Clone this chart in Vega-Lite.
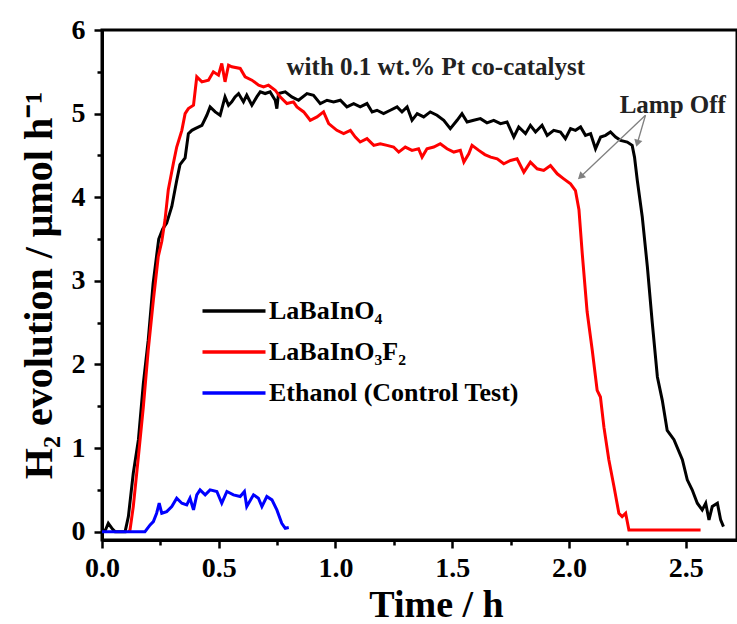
{
  "$schema": "https://vega.github.io/schema/vega-lite/v6.json",
  "width": 635,
  "height": 510,
  "autosize": "none",
  "padding": {"left": 102, "top": 30, "right": 0, "bottom": 84},
  "background": "white",
  "config": {
    "view": {"stroke": "black", "strokeWidth": 3},
    "font": "Liberation Serif",
    "axis": {"grid": false, "domainColor": "black", "tickColor": "black", "domainWidth": 3, "tickWidth": 2.5, "labelColor": "black", "titleColor": "black", "labelFont": "Liberation Serif", "titleFont": "Liberation Serif", "labelFontWeight": "bold", "titleFontWeight": "bold"}
  },
  "datasets": {
    "curves": [
      {"s":"LaBaInO₄","t":0,"v":0},{"s":"LaBaInO₄","t":0.015,"v":0.02},{"s":"LaBaInO₄","t":0.027,"v":0.1},{"s":"LaBaInO₄","t":0.045,"v":0.03},{"s":"LaBaInO₄","t":0.056,"v":0},{"s":"LaBaInO₄","t":0.099,"v":0},{"s":"LaBaInO₄","t":0.113,"v":0.18},{"s":"LaBaInO₄","t":0.134,"v":0.7},{"s":"LaBaInO₄","t":0.156,"v":1.1},{"s":"LaBaInO₄","t":0.177,"v":1.77},{"s":"LaBaInO₄","t":0.198,"v":2.29},{"s":"LaBaInO₄","t":0.219,"v":2.97},{"s":"LaBaInO₄","t":0.243,"v":3.5},{"s":"LaBaInO₄","t":0.26,"v":3.62},{"s":"LaBaInO₄","t":0.277,"v":3.69},{"s":"LaBaInO₄","t":0.299,"v":3.89},{"s":"LaBaInO₄","t":0.32,"v":4.2},{"s":"LaBaInO₄","t":0.334,"v":4.39},{"s":"LaBaInO₄","t":0.356,"v":4.47},{"s":"LaBaInO₄","t":0.37,"v":4.76},{"s":"LaBaInO₄","t":0.385,"v":4.8},{"s":"LaBaInO₄","t":0.399,"v":4.82},{"s":"LaBaInO₄","t":0.428,"v":4.86},{"s":"LaBaInO₄","t":0.449,"v":4.98},{"s":"LaBaInO₄","t":0.463,"v":5.08},{"s":"LaBaInO₄","t":0.485,"v":5.02},{"s":"LaBaInO₄","t":0.506,"v":4.98},{"s":"LaBaInO₄","t":0.527,"v":5.2},{"s":"LaBaInO₄","t":0.542,"v":5.1},{"s":"LaBaInO₄","t":0.556,"v":5.14},{"s":"LaBaInO₄","t":0.57,"v":5.2},{"s":"LaBaInO₄","t":0.585,"v":5.24},{"s":"LaBaInO₄","t":0.606,"v":5.14},{"s":"LaBaInO₄","t":0.62,"v":5.22},{"s":"LaBaInO₄","t":0.642,"v":5.1},{"s":"LaBaInO₄","t":0.663,"v":5.2},{"s":"LaBaInO₄","t":0.678,"v":5.26},{"s":"LaBaInO₄","t":0.699,"v":5.24},{"s":"LaBaInO₄","t":0.72,"v":5.26},{"s":"LaBaInO₄","t":0.742,"v":5.16},{"s":"LaBaInO₄","t":0.749,"v":5.06},{"s":"LaBaInO₄","t":0.756,"v":5.24},{"s":"LaBaInO₄","t":0.785,"v":5.26},{"s":"LaBaInO₄","t":0.813,"v":5.2},{"s":"LaBaInO₄","t":0.842,"v":5.16},{"s":"LaBaInO₄","t":0.878,"v":5.24},{"s":"LaBaInO₄","t":0.906,"v":5.22},{"s":"LaBaInO₄","t":0.935,"v":5.12},{"s":"LaBaInO₄","t":0.964,"v":5.16},{"s":"LaBaInO₄","t":0.992,"v":5.14},{"s":"LaBaInO₄","t":1.021,"v":5.16},{"s":"LaBaInO₄","t":1.049,"v":5.08},{"s":"LaBaInO₄","t":1.078,"v":5.12},{"s":"LaBaInO₄","t":1.106,"v":5.08},{"s":"LaBaInO₄","t":1.135,"v":5.12},{"s":"LaBaInO₄","t":1.157,"v":5.02},{"s":"LaBaInO₄","t":1.178,"v":5.04},{"s":"LaBaInO₄","t":1.206,"v":5.0},{"s":"LaBaInO₄","t":1.235,"v":5.04},{"s":"LaBaInO₄","t":1.264,"v":5.08},{"s":"LaBaInO₄","t":1.285,"v":5.02},{"s":"LaBaInO₄","t":1.307,"v":5.08},{"s":"LaBaInO₄","t":1.328,"v":4.92},{"s":"LaBaInO₄","t":1.35,"v":5.0},{"s":"LaBaInO₄","t":1.378,"v":4.96},{"s":"LaBaInO₄","t":1.406,"v":5.02},{"s":"LaBaInO₄","t":1.435,"v":4.98},{"s":"LaBaInO₄","t":1.464,"v":4.92},{"s":"LaBaInO₄","t":1.492,"v":4.82},{"s":"LaBaInO₄","t":1.521,"v":4.92},{"s":"LaBaInO₄","t":1.542,"v":5.0},{"s":"LaBaInO₄","t":1.564,"v":4.9},{"s":"LaBaInO₄","t":1.592,"v":4.92},{"s":"LaBaInO₄","t":1.621,"v":4.94},{"s":"LaBaInO₄","t":1.649,"v":4.89},{"s":"LaBaInO₄","t":1.678,"v":4.92},{"s":"LaBaInO₄","t":1.707,"v":4.88},{"s":"LaBaInO₄","t":1.735,"v":4.9},{"s":"LaBaInO₄","t":1.764,"v":4.72},{"s":"LaBaInO₄","t":1.785,"v":4.84},{"s":"LaBaInO₄","t":1.814,"v":4.76},{"s":"LaBaInO₄","t":1.835,"v":4.86},{"s":"LaBaInO₄","t":1.857,"v":4.78},{"s":"LaBaInO₄","t":1.885,"v":4.86},{"s":"LaBaInO₄","t":1.907,"v":4.74},{"s":"LaBaInO₄","t":1.935,"v":4.8},{"s":"LaBaInO₄","t":1.964,"v":4.78},{"s":"LaBaInO₄","t":1.985,"v":4.7},{"s":"LaBaInO₄","t":2.007,"v":4.82},{"s":"LaBaInO₄","t":2.028,"v":4.8},{"s":"LaBaInO₄","t":2.05,"v":4.84},{"s":"LaBaInO₄","t":2.071,"v":4.74},{"s":"LaBaInO₄","t":2.093,"v":4.76},{"s":"LaBaInO₄","t":2.114,"v":4.58},{"s":"LaBaInO₄","t":2.136,"v":4.72},{"s":"LaBaInO₄","t":2.157,"v":4.74},{"s":"LaBaInO₄","t":2.178,"v":4.78},{"s":"LaBaInO₄","t":2.2,"v":4.72},{"s":"LaBaInO₄","t":2.221,"v":4.68},{"s":"LaBaInO₄","t":2.25,"v":4.66},{"s":"LaBaInO₄","t":2.271,"v":4.62},{"s":"LaBaInO₄","t":2.281,"v":4.48},{"s":"LaBaInO₄","t":2.293,"v":4.2},{"s":"LaBaInO₄","t":2.314,"v":3.77},{"s":"LaBaInO₄","t":2.336,"v":3.17},{"s":"LaBaInO₄","t":2.357,"v":2.5},{"s":"LaBaInO₄","t":2.379,"v":1.85},{"s":"LaBaInO₄","t":2.4,"v":1.57},{"s":"LaBaInO₄","t":2.421,"v":1.21},{"s":"LaBaInO₄","t":2.45,"v":1.1},{"s":"LaBaInO₄","t":2.486,"v":0.86},{"s":"LaBaInO₄","t":2.507,"v":0.62},{"s":"LaBaInO₄","t":2.528,"v":0.5},{"s":"LaBaInO₄","t":2.55,"v":0.34},{"s":"LaBaInO₄","t":2.571,"v":0.26},{"s":"LaBaInO₄","t":2.586,"v":0.34},{"s":"LaBaInO₄","t":2.6,"v":0.14},{"s":"LaBaInO₄","t":2.614,"v":0.3},{"s":"LaBaInO₄","t":2.636,"v":0.34},{"s":"LaBaInO₄","t":2.65,"v":0.14},{"s":"LaBaInO₄","t":2.662,"v":0.06},
      {"s":"LaBaInO₃F₂","t":0.115,"v":0},{"s":"LaBaInO₃F₂","t":0.12,"v":0.02},{"s":"LaBaInO₃F₂","t":0.134,"v":0.3},{"s":"LaBaInO₃F₂","t":0.156,"v":0.9},{"s":"LaBaInO₃F₂","t":0.177,"v":1.49},{"s":"LaBaInO₃F₂","t":0.198,"v":2.17},{"s":"LaBaInO₃F₂","t":0.22,"v":2.77},{"s":"LaBaInO₃F₂","t":0.241,"v":3.29},{"s":"LaBaInO₃F₂","t":0.256,"v":3.47},{"s":"LaBaInO₃F₂","t":0.27,"v":3.73},{"s":"LaBaInO₃F₂","t":0.284,"v":4.09},{"s":"LaBaInO₃F₂","t":0.306,"v":4.41},{"s":"LaBaInO₃F₂","t":0.32,"v":4.6},{"s":"LaBaInO₃F₂","t":0.342,"v":4.8},{"s":"LaBaInO₃F₂","t":0.356,"v":5.0},{"s":"LaBaInO₃F₂","t":0.37,"v":5.06},{"s":"LaBaInO₃F₂","t":0.392,"v":5.1},{"s":"LaBaInO₃F₂","t":0.406,"v":5.44},{"s":"LaBaInO₃F₂","t":0.428,"v":5.38},{"s":"LaBaInO₃F₂","t":0.456,"v":5.4},{"s":"LaBaInO₃F₂","t":0.477,"v":5.5},{"s":"LaBaInO₃F₂","t":0.499,"v":5.46},{"s":"LaBaInO₃F₂","t":0.513,"v":5.6},{"s":"LaBaInO₃F₂","t":0.527,"v":5.38},{"s":"LaBaInO₃F₂","t":0.542,"v":5.58},{"s":"LaBaInO₃F₂","t":0.556,"v":5.56},{"s":"LaBaInO₃F₂","t":0.592,"v":5.54},{"s":"LaBaInO₃F₂","t":0.613,"v":5.44},{"s":"LaBaInO₃F₂","t":0.642,"v":5.4},{"s":"LaBaInO₃F₂","t":0.671,"v":5.34},{"s":"LaBaInO₃F₂","t":0.692,"v":5.32},{"s":"LaBaInO₃F₂","t":0.713,"v":5.34},{"s":"LaBaInO₃F₂","t":0.742,"v":5.28},{"s":"LaBaInO₃F₂","t":0.763,"v":5.2},{"s":"LaBaInO₃F₂","t":0.792,"v":5.12},{"s":"LaBaInO₃F₂","t":0.82,"v":5.14},{"s":"LaBaInO₃F₂","t":0.835,"v":5.08},{"s":"LaBaInO₃F₂","t":0.864,"v":5.02},{"s":"LaBaInO₃F₂","t":0.892,"v":4.92},{"s":"LaBaInO₃F₂","t":0.921,"v":4.96},{"s":"LaBaInO₃F₂","t":0.949,"v":5.02},{"s":"LaBaInO₃F₂","t":0.971,"v":4.88},{"s":"LaBaInO₃F₂","t":1.006,"v":4.8},{"s":"LaBaInO₃F₂","t":1.035,"v":4.76},{"s":"LaBaInO₃F₂","t":1.064,"v":4.8},{"s":"LaBaInO₃F₂","t":1.085,"v":4.72},{"s":"LaBaInO₃F₂","t":1.106,"v":4.66},{"s":"LaBaInO₃F₂","t":1.135,"v":4.7},{"s":"LaBaInO₃F₂","t":1.164,"v":4.62},{"s":"LaBaInO₃F₂","t":1.192,"v":4.64},{"s":"LaBaInO₃F₂","t":1.221,"v":4.62},{"s":"LaBaInO₃F₂","t":1.249,"v":4.6},{"s":"LaBaInO₃F₂","t":1.271,"v":4.54},{"s":"LaBaInO₃F₂","t":1.299,"v":4.6},{"s":"LaBaInO₃F₂","t":1.328,"v":4.56},{"s":"LaBaInO₃F₂","t":1.356,"v":4.58},{"s":"LaBaInO₃F₂","t":1.371,"v":4.48},{"s":"LaBaInO₃F₂","t":1.392,"v":4.58},{"s":"LaBaInO₃F₂","t":1.421,"v":4.6},{"s":"LaBaInO₃F₂","t":1.449,"v":4.64},{"s":"LaBaInO₃F₂","t":1.478,"v":4.58},{"s":"LaBaInO₃F₂","t":1.507,"v":4.54},{"s":"LaBaInO₃F₂","t":1.535,"v":4.56},{"s":"LaBaInO₃F₂","t":1.55,"v":4.42},{"s":"LaBaInO₃F₂","t":1.571,"v":4.52},{"s":"LaBaInO₃F₂","t":1.585,"v":4.62},{"s":"LaBaInO₃F₂","t":1.614,"v":4.56},{"s":"LaBaInO₃F₂","t":1.64,"v":4.51},{"s":"LaBaInO₃F₂","t":1.665,"v":4.48},{"s":"LaBaInO₃F₂","t":1.693,"v":4.46},{"s":"LaBaInO₃F₂","t":1.721,"v":4.4},{"s":"LaBaInO₃F₂","t":1.75,"v":4.44},{"s":"LaBaInO₃F₂","t":1.778,"v":4.46},{"s":"LaBaInO₃F₂","t":1.807,"v":4.3},{"s":"LaBaInO₃F₂","t":1.835,"v":4.42},{"s":"LaBaInO₃F₂","t":1.864,"v":4.34},{"s":"LaBaInO₃F₂","t":1.892,"v":4.32},{"s":"LaBaInO₃F₂","t":1.921,"v":4.38},{"s":"LaBaInO₃F₂","t":1.95,"v":4.28},{"s":"LaBaInO₃F₂","t":1.978,"v":4.22},{"s":"LaBaInO₃F₂","t":2.007,"v":4.16},{"s":"LaBaInO₃F₂","t":2.028,"v":4.08},{"s":"LaBaInO₃F₂","t":2.043,"v":3.85},{"s":"LaBaInO₃F₂","t":2.057,"v":3.33},{"s":"LaBaInO₃F₂","t":2.078,"v":2.63},{"s":"LaBaInO₃F₂","t":2.1,"v":2.17},{"s":"LaBaInO₃F₂","t":2.121,"v":1.69},{"s":"LaBaInO₃F₂","t":2.135,"v":1.61},{"s":"LaBaInO₃F₂","t":2.15,"v":1.25},{"s":"LaBaInO₃F₂","t":2.171,"v":0.86},{"s":"LaBaInO₃F₂","t":2.193,"v":0.54},{"s":"LaBaInO₃F₂","t":2.214,"v":0.22},{"s":"LaBaInO₃F₂","t":2.228,"v":0.18},{"s":"LaBaInO₃F₂","t":2.243,"v":0.22},{"s":"LaBaInO₃F₂","t":2.257,"v":0.02},{"s":"LaBaInO₃F₂","t":2.564,"v":0.02},
      {"s":"Ethanol (Control Test)","t":0,"v":0},{"s":"Ethanol (Control Test)","t":0.184,"v":0},{"s":"Ethanol (Control Test)","t":0.206,"v":0.08},{"s":"Ethanol (Control Test)","t":0.22,"v":0.12},{"s":"Ethanol (Control Test)","t":0.234,"v":0.22},{"s":"Ethanol (Control Test)","t":0.245,"v":0.34},{"s":"Ethanol (Control Test)","t":0.256,"v":0.22},{"s":"Ethanol (Control Test)","t":0.277,"v":0.24},{"s":"Ethanol (Control Test)","t":0.299,"v":0.3},{"s":"Ethanol (Control Test)","t":0.32,"v":0.4},{"s":"Ethanol (Control Test)","t":0.342,"v":0.34},{"s":"Ethanol (Control Test)","t":0.363,"v":0.32},{"s":"Ethanol (Control Test)","t":0.377,"v":0.4},{"s":"Ethanol (Control Test)","t":0.392,"v":0.26},{"s":"Ethanol (Control Test)","t":0.406,"v":0.44},{"s":"Ethanol (Control Test)","t":0.42,"v":0.5},{"s":"Ethanol (Control Test)","t":0.442,"v":0.44},{"s":"Ethanol (Control Test)","t":0.463,"v":0.5},{"s":"Ethanol (Control Test)","t":0.492,"v":0.48},{"s":"Ethanol (Control Test)","t":0.513,"v":0.34},{"s":"Ethanol (Control Test)","t":0.535,"v":0.48},{"s":"Ethanol (Control Test)","t":0.563,"v":0.44},{"s":"Ethanol (Control Test)","t":0.592,"v":0.42},{"s":"Ethanol (Control Test)","t":0.61,"v":0.48},{"s":"Ethanol (Control Test)","t":0.62,"v":0.3},{"s":"Ethanol (Control Test)","t":0.649,"v":0.44},{"s":"Ethanol (Control Test)","t":0.67,"v":0.4},{"s":"Ethanol (Control Test)","t":0.685,"v":0.3},{"s":"Ethanol (Control Test)","t":0.706,"v":0.42},{"s":"Ethanol (Control Test)","t":0.728,"v":0.38},{"s":"Ethanol (Control Test)","t":0.749,"v":0.26},{"s":"Ethanol (Control Test)","t":0.77,"v":0.1},{"s":"Ethanol (Control Test)","t":0.785,"v":0.04},{"s":"Ethanol (Control Test)","t":0.8,"v":0.05}
    ],
    "notes": [
      {"t": 1.43, "v": 5.56, "label": "with 0.1 wt.% Pt co-catalyst"},
      {"t": 2.445, "v": 5.1, "label": "Lamp Off"}
    ],
    "arrows": [
      {"id": "red", "t": 2.328, "v": 4.98, "t2": 2.05, "v2": 4.245},
      {"id": "black", "t": 2.328, "v": 4.98, "t2": 2.293, "v2": 4.645}
    ]
  },
  "resolve": {"axis": {"x": "independent", "y": "independent"}},
  "layer": [
    {
      "data": {"name": "curves"},
      "mark": {"type": "line", "strokeWidth": 3, "interpolate": "linear"},
      "encoding": {
        "x": {"field": "t", "type": "quantitative", "scale": {"domain": [0, 2.72], "nice": false, "zero": false},
          "axis": {"orient": "bottom", "values": [0, 0.5, 1, 1.5, 2, 2.5], "format": ".1f", "tickSize": 8, "labelFontSize": 28, "labelPadding": 6, "labelFlush": false, "title": "Time / h", "titleFontSize": 38, "titlePadding": 4, "titleX": 334}},
        "y": {"field": "v", "type": "quantitative", "scale": {"domain": [-0.1, 6], "nice": false, "zero": false},
          "axis": {"orient": "left", "values": [0, 1, 2, 3, 4, 5, 6], "format": "d", "tickSize": 8, "labelFontSize": 28, "labelPadding": 9, "labelFlush": false, "title": "H₂ evolution / μmol h⁻¹", "titleFontSize": 40, "titlePadding": 12}},
        "color": {"field": "s", "type": "nominal", "sort": null,
          "scale": {"domain": ["LaBaInO₄", "LaBaInO₃F₂", "Ethanol (Control Test)"], "range": ["#000000", "#ff0000", "#0000ff"]},
          "legend": {"orient": "none", "legendX": 119, "legendY": 268, "title": null, "symbolType": "M-3,0H3", "symbolSize": 441, "symbolStrokeWidth": 3.5, "symbolFillColor": "transparent", "labelFont": "Liberation Serif", "labelFontSize": 26, "labelFontWeight": "bold", "labelColor": "black", "labelOffset": 22, "labelLimit": 0, "rowPadding": 15, "padding": 0}}
      }
    },
    {
      "data": {"name": "notes"},
      "mark": {"type": "text", "font": "Liberation Serif", "fontWeight": "bold", "fontSize": 25, "color": "#222222", "baseline": "middle", "align": "center"},
      "encoding": {
        "x": {"field": "t", "type": "quantitative", "axis": {"orient": "bottom", "values": [0.25, 0.75, 1.25, 1.75, 2.25], "labels": false, "domain": false, "tickSize": 5, "title": null}},
        "y": {"field": "v", "type": "quantitative", "axis": {"orient": "left", "values": [0.5, 1.5, 2.5, 3.5, 4.5, 5.5], "labels": false, "domain": false, "tickSize": 5, "title": null}},
        "text": {"field": "label"}
      }
    },
    {
      "data": {"name": "arrows"},
      "mark": {"type": "rule", "color": "#808080", "strokeWidth": 1.3},
      "encoding": {
        "x": {"field": "t", "type": "quantitative", "axis": null},
        "y": {"field": "v", "type": "quantitative", "axis": null},
        "x2": {"field": "t2"},
        "y2": {"field": "v2"}
      }
    },
    {
      "data": {"name": "arrows"},
      "transform": [{"filter": "datum.id == 'red'"}],
      "mark": {"type": "point", "shape": "triangle-up", "filled": true, "color": "#808080", "size": 70, "angle": 226.5, "opacity": 1},
      "encoding": {
        "x": {"field": "t2", "type": "quantitative", "axis": null},
        "y": {"field": "v2", "type": "quantitative", "axis": null}
      }
    },
    {
      "data": {"name": "arrows"},
      "transform": [{"filter": "datum.id == 'black'"}],
      "mark": {"type": "point", "shape": "triangle-up", "filled": true, "color": "#808080", "size": 70, "angle": 196.3, "opacity": 1},
      "encoding": {
        "x": {"field": "t2", "type": "quantitative", "axis": null},
        "y": {"field": "v2", "type": "quantitative", "axis": null}
      }
    }
  ]
}
